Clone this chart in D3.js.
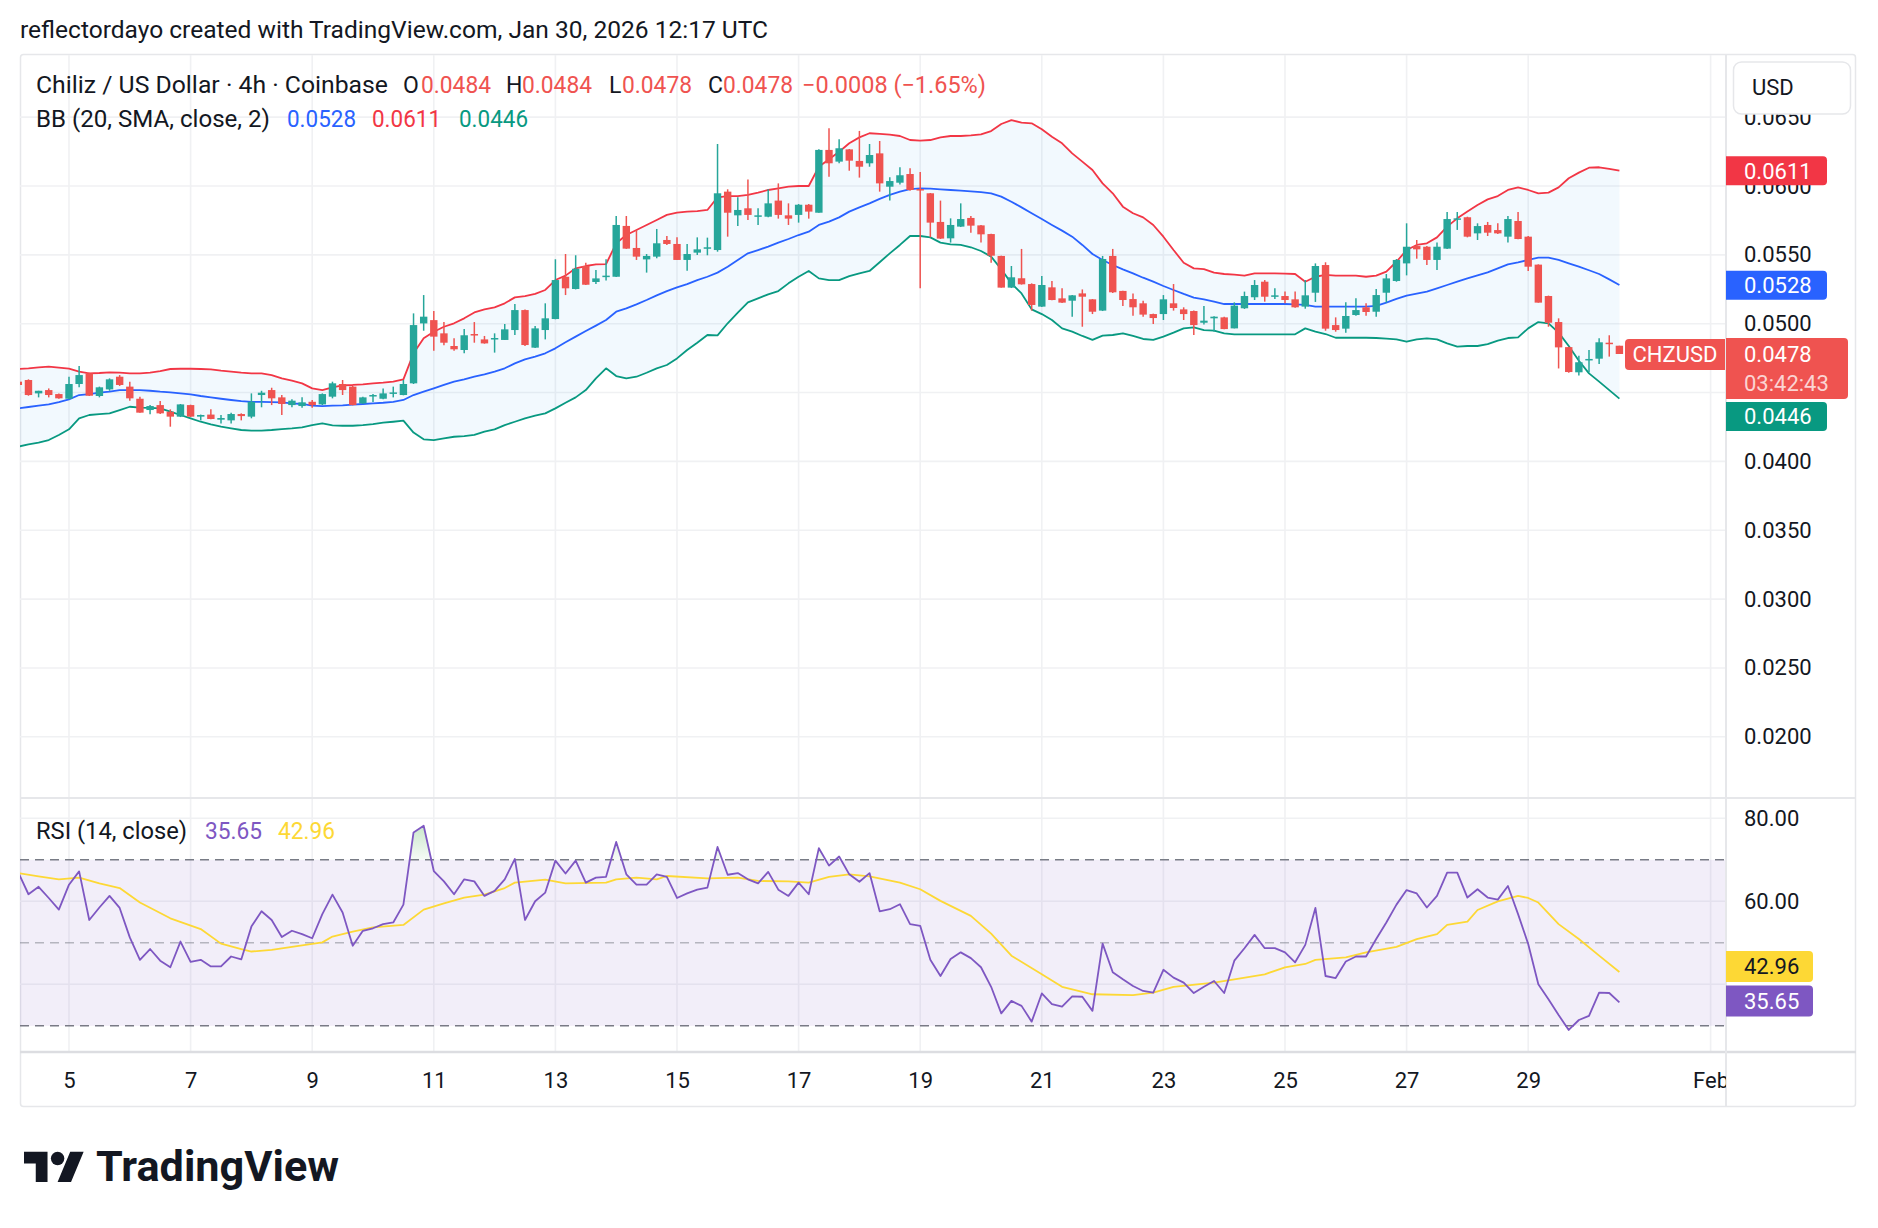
<!DOCTYPE html>
<html>
<head>
<meta charset="utf-8">
<script src="https://cdn.jsdelivr.net/npm/d3@7"></script>
<style>
  html, body { margin: 0; padding: 0; background: #fff; }
  svg { display: block; }
</style>
</head>
<body>
<div id="chart"></div>
<script>
// ---- data ----
// 4h bars, the first one is Jan 4 04:00 UTC (bar -5), bar 0 = Jan 5 00:00 UTC
const firstBarIndex = -5;

const open = [
  0.04579, 0.04591, 0.04494, 0.04518, 0.04489, 0.04455, 0.04562, 0.04639, 0.04475, 0.04523,
  0.04615, 0.04543, 0.04455, 0.04373, 0.04409, 0.04361, 0.04325, 0.04409, 0.04325, 0.04340,
  0.04303, 0.04298, 0.04344, 0.04325, 0.04482, 0.04518, 0.04465, 0.04409, 0.04402, 0.04433,
  0.04414, 0.04470, 0.04562, 0.04543, 0.04421, 0.04475, 0.04455, 0.04494, 0.04482, 0.04567,
  0.05002, 0.05026, 0.04930, 0.04838, 0.04809, 0.04925, 0.04886, 0.04886, 0.04882, 0.04954,
  0.05099, 0.04826, 0.04954, 0.05034, 0.05341, 0.05252, 0.05419, 0.05303, 0.05341, 0.05341,
  0.05710, 0.05550, 0.05467, 0.05487, 0.05608, 0.05579, 0.05463, 0.05516, 0.05547, 0.05535,
  0.05959, 0.05787, 0.05838, 0.05777, 0.05777, 0.05894, 0.05787, 0.05790, 0.05864, 0.05806,
  0.06262, 0.06177, 0.06266, 0.06182, 0.06165, 0.06237, 0.05995, 0.06024, 0.06087, 0.05978,
  0.05947, 0.05739, 0.05620, 0.05705, 0.05768, 0.05714, 0.05651, 0.05492, 0.05262, 0.05330,
  0.05288, 0.05124, 0.05264, 0.05184, 0.05167, 0.05220, 0.05177, 0.05095, 0.05492, 0.05238,
  0.05179, 0.05148, 0.05070, 0.05070, 0.05148, 0.05104, 0.05092, 0.05007, 0.05039, 0.05046,
  0.04966, 0.05112, 0.05192, 0.05305, 0.05196, 0.05201, 0.05177, 0.05124, 0.05225, 0.05426,
  0.04990, 0.04964, 0.05063, 0.05119, 0.05087, 0.05225, 0.05310, 0.05438, 0.05564, 0.05559,
  0.05463, 0.05545, 0.05758, 0.05773, 0.05656, 0.05717, 0.05680, 0.05632, 0.05746, 0.05632,
  0.05429, 0.05201, 0.05012, 0.04830, 0.04647, 0.04736, 0.04746, 0.04862, 0.0484
];
const high = [
  0.04586, 0.04596, 0.04513, 0.04530, 0.04494, 0.04615, 0.04693, 0.04644, 0.04543, 0.04603,
  0.04627, 0.04579, 0.04470, 0.04409, 0.04438, 0.04378, 0.04417, 0.04412, 0.04340, 0.04378,
  0.04337, 0.04354, 0.04349, 0.04494, 0.04513, 0.04535, 0.04482, 0.04451, 0.04465, 0.04445,
  0.04494, 0.04579, 0.04591, 0.04548, 0.04470, 0.04489, 0.04530, 0.04543, 0.04591, 0.05075,
  0.05208, 0.05092, 0.05012, 0.04894, 0.04962, 0.05012, 0.04911, 0.04930, 0.04998, 0.05143,
  0.05104, 0.04983, 0.05148, 0.05468, 0.05506, 0.05497, 0.05443, 0.05390, 0.05468, 0.05782,
  0.05782, 0.05681, 0.05506, 0.05688, 0.05637, 0.05627, 0.05579, 0.05627, 0.05625, 0.06305,
  0.05976, 0.05918, 0.06048, 0.05838, 0.05976, 0.06019, 0.05874, 0.05869, 0.05869, 0.06266,
  0.06419, 0.06339, 0.06269, 0.06400, 0.06305, 0.06327, 0.06063, 0.06136, 0.06128, 0.06102,
  0.05949, 0.05894, 0.05765, 0.05874, 0.05782, 0.05717, 0.05654, 0.05494, 0.05419, 0.05543,
  0.05293, 0.05346, 0.05310, 0.05257, 0.05208, 0.05249, 0.05179, 0.05492, 0.05543, 0.05240,
  0.05220, 0.05167, 0.05073, 0.05208, 0.05288, 0.05119, 0.05095, 0.05129, 0.05054, 0.05051,
  0.05155, 0.05233, 0.05317, 0.05317, 0.05257, 0.05233, 0.05233, 0.05317, 0.05438, 0.05446,
  0.05046, 0.05155, 0.05184, 0.05148, 0.05252, 0.05361, 0.05470, 0.05729, 0.05608, 0.05564,
  0.05589, 0.05811, 0.05811, 0.05777, 0.05729, 0.05739, 0.05729, 0.05782, 0.05811, 0.05637,
  0.05431, 0.05204, 0.05039, 0.04833, 0.04768, 0.04809, 0.04894, 0.04916, 0.0484
];
const low = [
  0.04548, 0.04477, 0.04465, 0.04465, 0.04455, 0.04451, 0.04538, 0.04475, 0.04465, 0.04513,
  0.04548, 0.04441, 0.04354, 0.04342, 0.04344, 0.04252, 0.04322, 0.04322, 0.04298, 0.04306,
  0.04276, 0.04276, 0.04298, 0.04313, 0.04393, 0.04409, 0.04337, 0.04393, 0.04390, 0.04390,
  0.04409, 0.04458, 0.04482, 0.04407, 0.04419, 0.04431, 0.04451, 0.04465, 0.04480, 0.04562,
  0.04949, 0.04804, 0.04843, 0.04804, 0.04785, 0.04862, 0.04855, 0.04790, 0.04882, 0.04918,
  0.04838, 0.04823, 0.04886, 0.05032, 0.05208, 0.05249, 0.05281, 0.05288, 0.05313, 0.05339,
  0.05543, 0.05463, 0.05371, 0.05475, 0.05572, 0.05463, 0.05385, 0.05499, 0.05497, 0.05523,
  0.05632, 0.05709, 0.05753, 0.05717, 0.05773, 0.05763, 0.05717, 0.05734, 0.05763, 0.05806,
  0.06068, 0.06165, 0.06111, 0.06061, 0.06140, 0.05959, 0.05894, 0.06010, 0.05966, 0.05257,
  0.05627, 0.05615, 0.05589, 0.05702, 0.05661, 0.05589, 0.05443, 0.05262, 0.05259, 0.05284,
  0.05095, 0.05121, 0.05170, 0.05150, 0.05051, 0.04978, 0.05070, 0.05092, 0.05223, 0.05129,
  0.05058, 0.05051, 0.04998, 0.05027, 0.05095, 0.05027, 0.04918, 0.04995, 0.04942, 0.04959,
  0.04966, 0.05107, 0.05172, 0.05160, 0.05179, 0.05148, 0.05116, 0.05109, 0.05158, 0.04949,
  0.04942, 0.04935, 0.05058, 0.05058, 0.05051, 0.05153, 0.05305, 0.05351, 0.05472, 0.05426,
  0.05390, 0.05543, 0.05681, 0.05627, 0.05608, 0.05637, 0.05651, 0.05589, 0.05613, 0.05383,
  0.05153, 0.04978, 0.04675, 0.04644, 0.04623, 0.04647, 0.04707, 0.04761, 0.0478
];
const close = [
  0.04555, 0.04482, 0.04513, 0.04482, 0.04458, 0.04562, 0.04627, 0.04477, 0.04538, 0.04596,
  0.04555, 0.04458, 0.04354, 0.04402, 0.04349, 0.04325, 0.04414, 0.04325, 0.04337, 0.04308,
  0.04315, 0.04344, 0.04329, 0.04433, 0.04499, 0.04458, 0.04417, 0.04441, 0.04429, 0.04409,
  0.04489, 0.04567, 0.04518, 0.04409, 0.04465, 0.04482, 0.04494, 0.04501, 0.04562, 0.04990,
  0.05051, 0.04906, 0.04862, 0.04814, 0.04916, 0.04916, 0.04857, 0.04896, 0.04959, 0.05099,
  0.04845, 0.04966, 0.05039, 0.05317, 0.05257, 0.05399, 0.05283, 0.05329, 0.05349, 0.05717,
  0.05545, 0.05487, 0.05492, 0.05584, 0.05579, 0.05463, 0.05506, 0.05540, 0.05555, 0.05947,
  0.05806, 0.05826, 0.05790, 0.05787, 0.05874, 0.05790, 0.05763, 0.05864, 0.05814, 0.06262,
  0.06165, 0.06274, 0.06184, 0.06140, 0.06225, 0.06019, 0.06036, 0.06078, 0.05971, 0.05969,
  0.05734, 0.05618, 0.05717, 0.05760, 0.05712, 0.05649, 0.05494, 0.05262, 0.05337, 0.05286,
  0.05136, 0.05281, 0.05172, 0.05153, 0.05206, 0.05196, 0.05087, 0.05470, 0.05228, 0.05172,
  0.05119, 0.05066, 0.05041, 0.05177, 0.05114, 0.05070, 0.04990, 0.05022, 0.05051, 0.04961,
  0.05131, 0.05201, 0.05281, 0.05196, 0.05206, 0.05172, 0.05119, 0.05206, 0.05419, 0.04964,
  0.04954, 0.05056, 0.05099, 0.05085, 0.05208, 0.05329, 0.05463, 0.05559, 0.05540, 0.05463,
  0.05559, 0.05760, 0.05765, 0.05632, 0.05709, 0.05661, 0.05656, 0.05760, 0.05615, 0.05414,
  0.05153, 0.05007, 0.04828, 0.04649, 0.04720, 0.04744, 0.04865, 0.04860, 0.0478
];

// Bollinger Bands (20, SMA, close, 2), one value per bar
const bbUpper = [
  0.04671, 0.04676, 0.04683, 0.04688, 0.04681, 0.04673, 0.04652, 0.04639, 0.04642, 0.04647,
  0.04644, 0.04639, 0.04639, 0.04644, 0.04656, 0.04671, 0.04673, 0.04673, 0.04671, 0.04668,
  0.04659, 0.04652, 0.04644, 0.04639, 0.04639, 0.04627, 0.04603, 0.04586, 0.04567, 0.04530,
  0.04518, 0.04538, 0.04552, 0.04555, 0.04560, 0.04567, 0.04572, 0.04579, 0.04596, 0.04785,
  0.04894, 0.04942, 0.04978, 0.05003, 0.05039, 0.05082, 0.05104, 0.05119, 0.05148, 0.05191,
  0.05201, 0.05216, 0.05245, 0.05317, 0.05349, 0.05402, 0.05419, 0.05431, 0.05433, 0.05584,
  0.05644, 0.05680, 0.05717, 0.05753, 0.05790, 0.05806, 0.05814, 0.05818, 0.05826, 0.05918,
  0.05927, 0.05927, 0.05935, 0.05952, 0.05971, 0.05983, 0.05995, 0.06000, 0.06000, 0.06140,
  0.06194, 0.06249, 0.06310, 0.06353, 0.06383, 0.06378, 0.06373, 0.06363, 0.06334, 0.06329,
  0.06334, 0.06353, 0.06363, 0.06363, 0.06368, 0.06375, 0.06399, 0.06450, 0.06479, 0.06460,
  0.06455, 0.06412, 0.06358, 0.06310, 0.06237, 0.06177, 0.06116, 0.06019, 0.05947, 0.05850,
  0.05802, 0.05772, 0.05717, 0.05632, 0.05535, 0.05443, 0.05402, 0.05397, 0.05371, 0.05361,
  0.05356, 0.05349, 0.05366, 0.05366, 0.05366, 0.05363, 0.05361, 0.05305, 0.05341, 0.05354,
  0.05349, 0.05349, 0.05349, 0.05341, 0.05349, 0.05378, 0.05450, 0.05535, 0.05572, 0.05584,
  0.05627, 0.05705, 0.05765, 0.05814, 0.05862, 0.05903, 0.05927, 0.05971, 0.05990, 0.05971,
  0.05947, 0.05952, 0.05990, 0.06056, 0.06097, 0.06133, 0.06136, 0.06124, 0.06111
];
const bbBasis = [
  0.04385, 0.04395, 0.04405, 0.04414, 0.04431, 0.04451, 0.04482, 0.04489, 0.04499, 0.04506,
  0.04518, 0.04518, 0.04518, 0.04513, 0.04506, 0.04501, 0.04494, 0.04487, 0.04475, 0.04465,
  0.04455, 0.04446, 0.04438, 0.04433, 0.04433, 0.04431, 0.04429, 0.04421, 0.04417, 0.04405,
  0.04402, 0.04405, 0.04407, 0.04412, 0.04417, 0.04421, 0.04426, 0.04433, 0.04446, 0.04482,
  0.04506, 0.04530, 0.04555, 0.04579, 0.04596, 0.04615, 0.04632, 0.04652, 0.04676, 0.04712,
  0.04741, 0.04761, 0.04785, 0.04821, 0.04865, 0.04906, 0.04947, 0.04986, 0.05027, 0.05087,
  0.05111, 0.05140, 0.05172, 0.05206, 0.05237, 0.05264, 0.05288, 0.05317, 0.05341, 0.05371,
  0.05414, 0.05463, 0.05511, 0.05535, 0.05560, 0.05589, 0.05615, 0.05644, 0.05668, 0.05717,
  0.05741, 0.05772, 0.05814, 0.05845, 0.05874, 0.05906, 0.05935, 0.05959, 0.05978, 0.05983,
  0.05981, 0.05976, 0.05971, 0.05966, 0.05961, 0.05956, 0.05947, 0.05923, 0.05886, 0.05845,
  0.05802, 0.05760, 0.05717, 0.05676, 0.05632, 0.05572, 0.05506, 0.05463, 0.05426, 0.05395,
  0.05366, 0.05334, 0.05305, 0.05274, 0.05245, 0.05216, 0.05189, 0.05177, 0.05160, 0.05143,
  0.05143, 0.05143, 0.05143, 0.05143, 0.05143, 0.05143, 0.05141, 0.05136, 0.05124, 0.05124,
  0.05124, 0.05124, 0.05124, 0.05124, 0.05129, 0.05153, 0.05180, 0.05204, 0.05218, 0.05233,
  0.05257, 0.05281, 0.05305, 0.05329, 0.05351, 0.05373, 0.05402, 0.05431, 0.05446, 0.05463,
  0.05480, 0.05480, 0.05463, 0.05438, 0.05414, 0.05388, 0.05361, 0.05322, 0.05281
];
const bbLower = [
  0.04107, 0.04124, 0.04136, 0.04155, 0.04192, 0.04233, 0.04313, 0.04337, 0.04344, 0.04349,
  0.04373, 0.04397, 0.04390, 0.04388, 0.04385, 0.04361, 0.04337, 0.04313, 0.04288, 0.04269,
  0.04252, 0.04240, 0.04228, 0.04223, 0.04223, 0.04228, 0.04235, 0.04240, 0.04247, 0.04264,
  0.04276, 0.04262, 0.04259, 0.04259, 0.04264, 0.04271, 0.04281, 0.04288, 0.04296, 0.04209,
  0.04160, 0.04155, 0.04167, 0.04179, 0.04184, 0.04192, 0.04216, 0.04233, 0.04264, 0.04288,
  0.04313, 0.04332, 0.04349, 0.04385, 0.04426, 0.04465, 0.04518, 0.04603, 0.04676, 0.04620,
  0.04603, 0.04615, 0.04644, 0.04676, 0.04700, 0.04748, 0.04809, 0.04862, 0.04918, 0.04915,
  0.05003, 0.05080, 0.05155, 0.05184, 0.05213, 0.05237, 0.05293, 0.05341, 0.05383, 0.05329,
  0.05317, 0.05317, 0.05346, 0.05366, 0.05383, 0.05446, 0.05511, 0.05572, 0.05637, 0.05637,
  0.05627, 0.05589, 0.05576, 0.05572, 0.05555, 0.05528, 0.05487, 0.05395, 0.05293, 0.05220,
  0.05104, 0.05070, 0.05027, 0.04966, 0.04942, 0.04911, 0.04882, 0.04913, 0.04918, 0.04930,
  0.04911, 0.04889, 0.04882, 0.04906, 0.04935, 0.04966, 0.04974, 0.04954, 0.04949, 0.04930,
  0.04923, 0.04923, 0.04923, 0.04923, 0.04923, 0.04923, 0.04923, 0.04966, 0.04942, 0.04925,
  0.04898, 0.04898, 0.04898, 0.04898, 0.04896, 0.04891, 0.04886, 0.04869, 0.04886, 0.04894,
  0.04886, 0.04857, 0.04833, 0.04838, 0.04838, 0.04852, 0.04877, 0.04896, 0.04901, 0.04966,
  0.05012, 0.05003, 0.04935, 0.04838, 0.04731, 0.04639, 0.04579, 0.04518, 0.04456
];

// RSI (14, close), one value per bar
const rsi = [
  66.9, 61.7, 63.5, 60.8, 58.0, 64.0, 67.2, 55.5, 58.5, 61.3,
  58.4, 51.3, 45.9, 48.5, 45.7, 44.1, 50.3, 45.4, 45.9, 44.3,
  44.3, 46.7, 46.0, 53.9, 57.6, 55.5, 51.4, 52.9, 52.1, 51.1,
  56.9, 61.6, 57.3, 49.3, 52.9, 53.5, 54.5, 54.9, 59.2, 76.6,
  78.2, 67.3, 64.8, 61.7, 65.3, 64.8, 61.3, 62.5, 65.3, 70.2,
  55.5, 60.0, 62.1, 69.8, 66.7, 69.8, 64.5, 65.7, 65.9, 74.3,
  66.5, 64.0, 64.0, 66.5, 65.9, 60.8, 61.9, 62.8, 63.3, 73.1,
  66.4, 66.8, 65.3, 64.3, 67.1, 62.8, 61.3, 64.5, 61.7, 72.8,
  68.6, 70.8, 66.5, 64.7, 66.8, 57.6, 58.1, 59.3, 54.5, 54.1,
  45.9, 42.0, 46.1, 47.7, 46.3, 44.1, 39.4, 33.0, 36.0, 34.8,
  31.0, 37.8, 35.2, 34.6, 37.1, 37.0, 33.6, 49.8, 42.9, 41.2,
  39.6, 38.4, 38.0, 43.5, 41.6, 40.4, 37.9, 39.4, 40.8, 37.9,
  45.7, 48.7, 51.9, 48.7, 48.7, 47.7, 45.3, 49.5, 58.4, 42.0,
  41.5, 45.5, 46.7, 46.7, 50.9, 54.9, 59.2, 62.7, 61.9, 58.5,
  61.3, 66.9, 66.9, 60.9, 62.9, 60.9, 60.4, 63.7, 56.9, 49.7,
  40.0, 36.4, 32.6, 29.0, 31.4, 32.4, 38.0, 37.9, 35.65
];
// RSI-based MA, read at these bar numbers
const rsiMaBar = [-5, -3, -1, 1, 3, 5, 7, 10, 13, 15, 17, 18, 20, 22, 25, 26, 28, 30, 33, 35,
  37, 39, 41, 43, 44, 47, 49, 53, 54, 56, 58, 59, 63, 66, 68, 71, 73, 75, 77, 79,
  82, 84, 86, 89, 91, 93, 96, 98, 101, 105, 107, 109, 113, 115, 118, 120, 122, 123, 126, 128,
  131, 133, 135, 136, 138, 139, 141, 143, 144, 145, 147, 149, 151, 153];
const rsiMa = [66.8, 66.0, 65.3, 65.7, 64.3, 63.2, 59.7, 55.9, 53.3, 49.8, 48.5, 47.9, 48.3, 49.0, 50.1, 51.5, 52.7, 53.7, 54.3, 58.0,
  59.5, 60.9, 61.6, 63.2, 64.5, 65.2, 64.3, 64.5, 65.3, 65.7, 65.3, 66.1, 65.5, 65.7, 64.9, 64.8, 64.5, 65.9, 66.5, 66.0,
  64.5, 62.9, 60.1, 56.5, 52.2, 46.9, 42.4, 39.4, 37.6, 37.4, 38.0, 39.4, 40.4, 41.2, 42.4, 44.1, 44.9, 45.9, 46.5, 47.7,
  49.0, 50.9, 52.1, 54.3, 55.1, 57.9, 60.0, 61.3, 60.8, 59.7, 54.5, 50.9, 46.9, 42.96];

// axis ticks (grid lines) and the tick labels left visible by the scale badges
const priceGrid = [0.020, 0.025, 0.030, 0.035, 0.040, 0.045, 0.050, 0.055, 0.060, 0.065];
const priceLabels = [0.020, 0.025, 0.030, 0.035, 0.040, 0.050, 0.055, 0.060, 0.065];
const rsiGrid = [80, 60, 40];
const rsiLabels = [80, 60];
const timeTicks = ["2026-01-05", "2026-01-07", "2026-01-09", "2026-01-11", "2026-01-13", "2026-01-15",
  "2026-01-17", "2026-01-19", "2026-01-21", "2026-01-23", "2026-01-25", "2026-01-27", "2026-01-29", "2026-02-01"];
const timeTickLabels = ["5", "7", "9", "11", "13", "15", "17", "19", "21", "23", "25", "27", "29", "Feb"];

// ---- layout ----
const W = 1878, H = 1228;
const L = 20, R = 1726, AX = 1856;
const priceTop = 55, priceBottom = 797, rsiTop = 799, rsiBottom = 1051, timeBottom = 1106;
const up = "#26a69a", down = "#ef5350";
const FONT = "Roboto, 'Noto Sans', 'DejaVu Sans', sans-serif";
const barMs = 4 * 3600 * 1000;
const bar0 = Date.UTC(2026, 0, 5);
const barTime = i => new Date(bar0 + i * barMs);

const bars = open.map((o, k) => ({
  t: barTime(k + firstBarIndex), o, h: high[k], l: low[k], c: close[k],
  up: bbUpper[k], mid: bbBasis[k], lo: bbLower[k], rsi: rsi[k]
}));

const x = d3.scaleUtc().domain([new Date(bar0), new Date(Date.UTC(2026, 0, 29))]).range([69, 1528.2]);
const y = d3.scaleLinear().domain([0.02, 0.065]).range([736.8, 117.15]);
const yR = d3.scaleLinear().domain([20, 80]).range([1067.3, 818.3]);

const svg = d3.select("#chart").append("svg")
  .attr("width", W).attr("height", H)
  .attr("font-family", FONT);
svg.append("rect").attr("width", W).attr("height", H).attr("fill", "#fff");

const defs = svg.append("defs");
defs.append("clipPath").attr("id", "clipPrice").append("rect")
  .attr("x", L).attr("y", priceTop).attr("width", R - L).attr("height", priceBottom - priceTop);
defs.append("clipPath").attr("id", "clipRsi").append("rect")
  .attr("x", L).attr("y", rsiTop).attr("width", R - L).attr("height", rsiBottom - rsiTop);
defs.append("clipPath").attr("id", "clipOB").append("rect")
  .attr("x", L).attr("y", rsiTop).attr("width", R - L).attr("height", yR(70) - rsiTop);
defs.append("clipPath").attr("id", "clipOS").append("rect")
  .attr("x", L).attr("y", yR(30)).attr("width", R - L).attr("height", rsiBottom - yR(30));
defs.append("clipPath").attr("id", "clipTime").append("rect")
  .attr("x", L).attr("y", rsiBottom).attr("width", R - L).attr("height", timeBottom - rsiBottom);

const gOB = defs.append("linearGradient").attr("id", "gradOB").attr("gradientUnits", "userSpaceOnUse")
  .attr("x1", 0).attr("x2", 0).attr("y1", yR(80)).attr("y2", yR(70));
gOB.append("stop").attr("offset", 0).attr("stop-color", "rgba(76,175,80,0.35)");
gOB.append("stop").attr("offset", 1).attr("stop-color", "rgba(76,175,80,0.05)");
const gOS = defs.append("linearGradient").attr("id", "gradOS").attr("gradientUnits", "userSpaceOnUse")
  .attr("x1", 0).attr("x2", 0).attr("y1", yR(30)).attr("y2", yR(22));
gOS.append("stop").attr("offset", 0).attr("stop-color", "rgba(242,54,69,0.05)");
gOS.append("stop").attr("offset", 1).attr("stop-color", "rgba(242,54,69,0.35)");

// ---- header ----
svg.append("text").attr("x", 20).attr("y", 30).attr("dy", "0.35em")
  .attr("font-size", 24).attr("fill", "#131722")
  .attr("textLength", 748).attr("lengthAdjust", "spacingAndGlyphs")
  .text("reflectordayo created with TradingView.com, Jan 30, 2026 12:17 UTC");

// frame
svg.append("rect").attr("x", L + 0.5).attr("y", 54.5).attr("width", AX - L - 1).attr("height", timeBottom - 54)
  .attr("fill", "none").attr("stroke", "#e6e7ea").attr("stroke-width", 1.5).attr("rx", 3);

// ---- grid ----
const grid = svg.append("g").attr("stroke", "#f0f1f3").attr("stroke-width", 1.6);
grid.selectAll("line.gy").data(priceGrid).join("line")
  .attr("x1", L).attr("x2", R).attr("y1", d => y(d)).attr("y2", d => y(d));
grid.selectAll("line.gr").data(rsiGrid).join("line")
  .attr("x1", L).attr("x2", R).attr("y1", d => yR(d)).attr("y2", d => yR(d));
grid.selectAll("line.gx").data(timeTicks).join("line")
  .attr("x1", d => x(new Date(d))).attr("x2", d => x(new Date(d)))
  .attr("y1", priceTop).attr("y2", rsiBottom);

// ---- price pane ----
const gP = svg.append("g").attr("clip-path", "url(#clipPrice)");
gP.append("path").datum(bars)
  .attr("fill", "rgba(33,150,243,0.06)")
  .attr("d", d3.area().x(d => x(d.t)).y0(d => y(d.lo)).y1(d => y(d.up)));
[["mid", "#2962ff"], ["up", "#f23645"], ["lo", "#089981"]].forEach(([k, col]) => {
  gP.append("path").datum(bars)
    .attr("fill", "none").attr("stroke", col).attr("stroke-width", 1.8).attr("stroke-linejoin", "round")
    .attr("d", d3.line().x(d => x(d.t)).y(d => y(d[k])));
});
gP.selectAll("line.wick").data(bars).join("line")
  .attr("x1", d => x(d.t)).attr("x2", d => x(d.t))
  .attr("y1", d => y(d.h)).attr("y2", d => y(d.l))
  .attr("stroke", d => d.c >= d.o ? up : down).attr("stroke-width", 1.5);
gP.selectAll("rect.body").data(bars).join("rect")
  .attr("x", d => x(d.t) - 3.7).attr("width", 7.4)
  .attr("y", d => y(Math.max(d.o, d.c)))
  .attr("height", d => Math.max(1.5, Math.abs(y(d.o) - y(d.c))))
  .attr("fill", d => d.c >= d.o ? up : down);

// ---- RSI pane ----
const gR = svg.append("g").attr("clip-path", "url(#clipRsi)");
gR.append("rect").attr("x", L).attr("width", R - L)
  .attr("y", yR(70)).attr("height", yR(30) - yR(70)).attr("fill", "rgba(126,87,194,0.1)");
[[70, "#787b86"], [50, "rgba(120,123,134,0.5)"], [30, "#787b86"]].forEach(([v, col]) => {
  gR.append("line").attr("x1", L).attr("x2", R).attr("y1", yR(v)).attr("y2", yR(v))
    .attr("stroke", col).attr("stroke-width", 1.6).attr("stroke-dasharray", "9,6");
});
gR.append("path").datum(bars).attr("clip-path", "url(#clipOB)").attr("fill", "url(#gradOB)")
  .attr("d", d3.area().x(d => x(d.t)).y0(yR(70)).y1(d => yR(d.rsi)));
gR.append("path").datum(bars).attr("clip-path", "url(#clipOS)").attr("fill", "url(#gradOS)")
  .attr("d", d3.area().x(d => x(d.t)).y0(yR(30)).y1(d => yR(d.rsi)));
gR.append("path").datum(rsiMaBar.map((b, i) => ({ t: barTime(b), v: rsiMa[i] })))
  .attr("fill", "none").attr("stroke", "#fdd835").attr("stroke-width", 1.8).attr("stroke-linejoin", "round")
  .attr("d", d3.line().x(d => x(d.t)).y(d => yR(d.v)));
gR.append("path").datum(bars)
  .attr("fill", "none").attr("stroke", "#7e57c2").attr("stroke-width", 1.8).attr("stroke-linejoin", "round")
  .attr("d", d3.line().x(d => x(d.t)).y(d => yR(d.rsi)));

// pane separators
svg.append("line").attr("x1", L).attr("x2", AX).attr("y1", 798).attr("y2", 798)
  .attr("stroke", "#e6e7ea").attr("stroke-width", 2);
svg.append("line").attr("x1", L).attr("x2", AX).attr("y1", rsiBottom + 1).attr("y2", rsiBottom + 1)
  .attr("stroke", "#dcdde1").attr("stroke-width", 2.5);
svg.append("line").attr("x1", R).attr("x2", R).attr("y1", 54).attr("y2", timeBottom)
  .attr("stroke", "#e6e7ea").attr("stroke-width", 2);

// ---- axes ----
const axisStyle = g => {
  g.select(".domain").remove();
  g.attr("font-family", FONT).attr("font-size", 22);
  g.selectAll("text").attr("fill", "#131722");
};
svg.append("g").attr("transform", `translate(${R},0)`)
  .call(d3.axisRight(y).tickValues(priceLabels).tickFormat(d3.format(".4f")).tickSize(0).tickPadding(18))
  .call(axisStyle);
svg.append("g").attr("transform", `translate(${R},0)`)
  .call(d3.axisRight(yR).tickValues(rsiLabels).tickFormat(d3.format(".2f")).tickSize(0).tickPadding(18))
  .call(axisStyle);
svg.append("g").attr("clip-path", "url(#clipTime)")
  .append("g").attr("transform", "translate(0,1080)")
  .call(d3.axisBottom(x).tickValues(timeTicks.map(d => new Date(d)))
    .tickFormat((d, i) => timeTickLabels[i]).tickSize(0).tickPadding(0))
  .call(axisStyle)
  .call(g => g.selectAll("text").attr("y", 0).attr("dy", "0.35em"));

// ---- scale badges ----
function badge(yc, h, w, fill, lines, textFill) {
  const g = svg.append("g");
  g.append("path").attr("fill", fill)
    .attr("d", `M${R},${yc - h / 2}h${w - 4}q4,0 4,4v${h - 8}q0,4 -4,4h${-(w - 4)}z`);
  lines.forEach((t, i) => {
    g.append("text").attr("x", 1744).attr("y", yc - (lines.length - 1) * 14.5 + i * 29).attr("dy", "0.35em")
      .attr("font-size", 22).attr("fill", i === 0 ? textFill : "rgba(255,255,255,0.75)").text(t);
  });
}
badge(y(0.0611), 29, 101, "#f23645", ["0.0611"], "#fff");
badge(y(0.0528), 29, 101, "#2962ff", ["0.0528"], "#fff");
badge(368.5, 61, 122, down, ["0.0478", "03:42:43"], "#fff");
badge(416.5, 29, 101, "#089981", ["0.0446"], "#fff");
badge(966.5, 31, 87, "#fdd835", ["42.96"], "#131722");
badge(1001, 31, 87, "#7e57c2", ["35.65"], "#fff");

// symbol label left of the scale
svg.append("path").attr("fill", down)
  .attr("d", `M${R - 1},339h-96q-4,0 -4,4v23q0,4 4,4h96z`);
svg.append("text").attr("x", 1675).attr("y", 354.5).attr("dy", "0.35em").attr("text-anchor", "middle")
  .attr("font-size", 22).attr("fill", "#fff").text("CHZUSD");

// currency button (covers the top of the 0.0650 label, as in the original)
svg.append("rect").attr("x", 1733.5).attr("y", 62).attr("width", 117).attr("height", 52).attr("rx", 8)
  .attr("fill", "#fff").attr("stroke", "#e6e7ea").attr("stroke-width", 1.5);
svg.append("text").attr("x", 1752).attr("y", 87).attr("dy", "0.35em").attr("font-size", 22)
  .attr("fill", "#131722").text("USD");

// ---- legends ----
function seg(xs, yc, str, col, w) {
  const t = svg.append("text").attr("x", xs).attr("y", yc).attr("dy", "0.35em")
    .attr("font-size", 23).attr("fill", col).text(str);
  if (w) t.attr("textLength", w).attr("lengthAdjust", "spacingAndGlyphs");
}
const ink = "#131722";
seg(36, 85, "Chiliz / US Dollar · 4h · Coinbase", ink, 352);
seg(403, 85, "O", ink); seg(421, 85, "0.0484", down, 70);
seg(506, 85, "H", ink); seg(522, 85, "0.0484", down, 70);
seg(609, 85, "L", ink); seg(622, 85, "0.0478", down, 70);
seg(708, 85, "C", ink); seg(723, 85, "0.0478", down, 70);
seg(802, 85, "−0.0008 (−1.65%)", down, 184);
seg(36, 118.5, "BB (20, SMA, close, 2)", ink, 234);
seg(287, 118.5, "0.0528", "#2962ff", 69);
seg(372, 118.5, "0.0611", "#f23645", 69);
seg(459, 118.5, "0.0446", "#089981", 69);
seg(36, 831, "RSI (14, close)", ink, 151);
seg(205, 831, "35.65", "#7e57c2", 57);
seg(278, 831, "42.96", "#fdd835", 57);

// ---- TradingView logo ----
const logo = svg.append("g").attr("transform", "translate(24,1145) scale(1.68)").attr("fill", "#131722");
logo.append("path").attr("d", "M14 22H7V11H0V4h14v18zM28 22h-8l7.5-18h8L28 22z");
logo.append("circle").attr("cx", 20).attr("cy", 8).attr("r", 4);
svg.append("text").attr("x", 96).attr("y", 1181).attr("font-size", 42).attr("font-weight", 700)
  .attr("fill", "#131722").attr("textLength", 243).attr("lengthAdjust", "spacingAndGlyphs")
  .text("TradingView");
</script>
</body>
</html>
